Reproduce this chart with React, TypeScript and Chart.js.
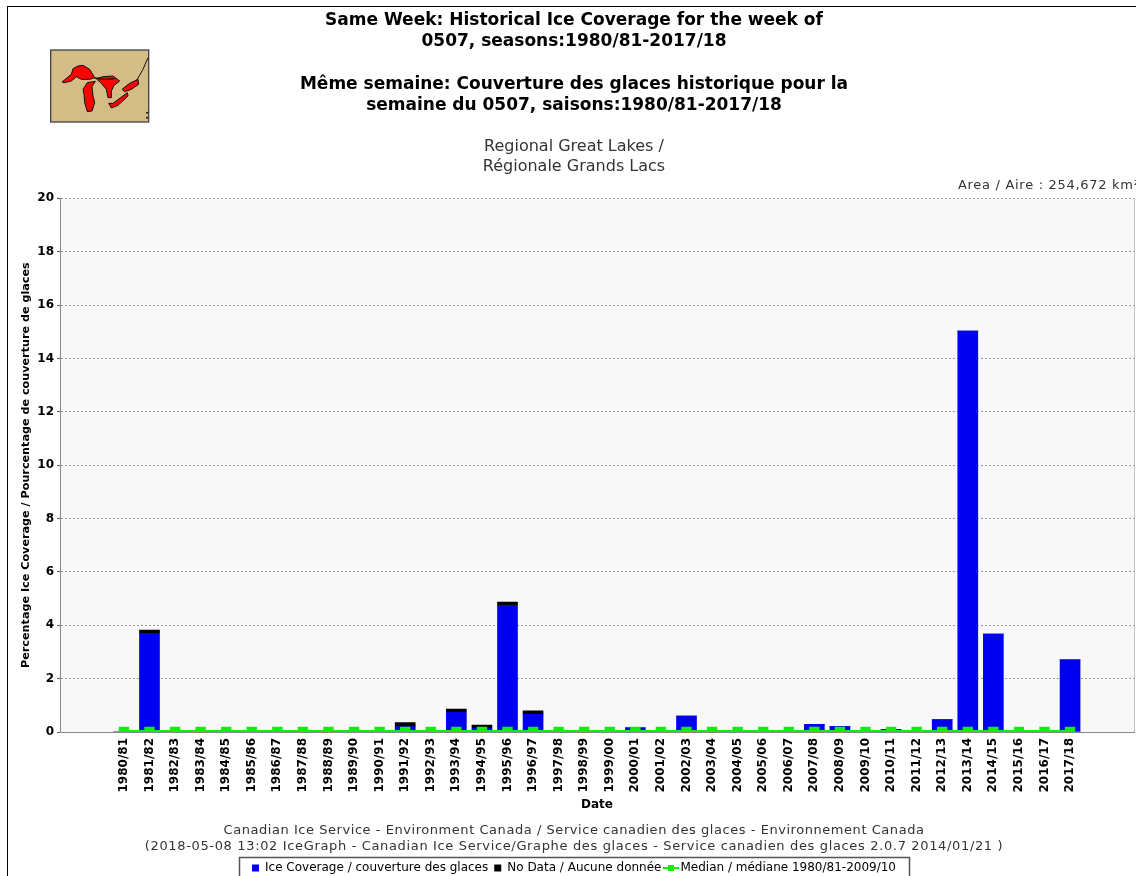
import React, { useEffect, useRef } from "react";
import { Chart, registerables } from "chart.js";

Chart.register(...registerables);

const seasons = [
  "1980/81","1981/82","1982/83","1983/84","1984/85","1985/86","1986/87","1987/88","1988/89","1989/90",
  "1990/91","1991/92","1992/93","1993/94","1994/95","1995/96","1996/97","1997/98","1998/99","1999/00",
  "2000/01","2001/02","2002/03","2003/04","2004/05","2005/06","2006/07","2007/08","2008/09","2009/10",
  "2010/11","2011/12","2012/13","2013/14","2014/15","2015/16","2016/17","2017/18",
];
const iceCoverage = [
  0,3.7,0,0,0,0,0,0,0,0,
  0,0.2,0,0.74,0.14,4.75,0.66,0,0,0,
  0.16,0,0.6,0,0,0,0,0.29,0.2,0,
  0.09,0,0.47,15.02,3.67,0,0,2.7,
];
const noData = [
  0,0.12,0,0,0,0,0,0,0,0,
  0,0.15,0,0.12,0.12,0.12,0.13,0,0,0,
  0,0,0,0,0,0,0,0,0,0,
  0,0,0,0,0,0,0,0,
];
const median = seasons.map(() => 0);

const titleLines = [
  "Same Week: Historical Ice Coverage for the week of",
  "0507, seasons:1980/81-2017/18",
  "",
  "Même semaine: Couverture des glaces historique pour la",
  "semaine du 0507, saisons:1980/81-2017/18",
];
const subtitleLines = ["Regional Great Lakes /", "Régionale Grands Lacs"];
const areaText = "Area / Aire : 254,672 km²";
const footerLines = [
  "Canadian Ice Service - Environment Canada / Service canadien des glaces - Environnement Canada",
  "(2018-05-08 13:02 IceGraph - Canadian Ice Service/Graphe des glaces - Service canadien des glaces 2.0.7 2014/01/21 )",
];
const legendLabels = [
  "Ice Coverage / couverture des glaces",
  "No Data / Aucune donnée",
  "Median / médiane 1980/81-2009/10",
];
const FONT = "'DejaVu Sans', sans-serif";
const GREEN = "#10ee10";
const pad = (a: (number | null)[]) => [null, null, ...a, null, null];

function lineMarker() {
  const c = document.createElement("canvas");
  c.width = 16;
  c.height = 8;
  const x = c.getContext("2d")!;
  x.fillStyle = GREEN;
  x.fillRect(0, 3, 16, 2);
  x.fillRect(5, 1, 6, 6);
  return c;
}

const decorations = {
  id: "decorations",
  beforeDatasetsDraw(chart: any) {
    const { ctx, chartArea: a } = chart;
    ctx.save();
    ctx.fillStyle = "#c4c4c4";
    ctx.fillRect(a.right, a.top, 1, a.bottom - a.top);
    ctx.restore();
  },
  afterDraw(chart: any) {
    const { ctx, legend } = chart;
    ctx.save();
    ctx.fillStyle = "#333";
    ctx.textBaseline = "middle";
    ctx.font = `13px ${FONT}`;
    (ctx as any).letterSpacing = "0.7px";
    ctx.textAlign = "left";
    ctx.fillText(areaText, 950, 179);
    ctx.textAlign = "center";
    (ctx as any).letterSpacing = "0.55px";
    ctx.fillText(footerLines[0], 566, 824);
    (ctx as any).letterSpacing = "0.65px";
    ctx.fillText(footerLines[1], 566, 840);
    (ctx as any).letterSpacing = "0px";
    ctx.strokeStyle = "#555";
    ctx.lineWidth = 1.5;
    const hits = legend.legendHitBoxes;
    const l = hits[0].left - 13;
    const last = hits[hits.length - 1];
    const r = last.left + last.width + 13;
    ctx.strokeRect(l + 0.5, 850.5, r - l, 40);
    ctx.restore();
  },
};

export default function App() {
  const ref = useRef<HTMLCanvasElement>(null);
  useEffect(() => {
    document.body.style.margin = "0";
    document.body.style.overflow = "hidden";
    const chart = new Chart(ref.current!, {
      type: "bar",
      data: {
        labels: ["", "", ...seasons, "", ""],
        datasets: [
          { type: "bar", label: legendLabels[0], data: pad(iceCoverage), backgroundColor: "#0000f0", barThickness: 20, order: 2 },
          { type: "bar", label: legendLabels[1], data: pad(noData), backgroundColor: "#000", barThickness: 20, order: 3 },
          { type: "line", label: legendLabels[2], data: pad(median), borderColor: GREEN, backgroundColor: GREEN, borderWidth: 4, pointStyle: "rect", pointRadius: 4.5, pointHoverRadius: 4.5, order: 1 },
        ],
      } as any,
      options: {
        animation: false,
        responsive: false,
        layout: { padding: { top: 0, right: 10, bottom: 0, left: 6 } },
        plugins: {
          title: { display: true, text: titleLines, color: "#000", font: { family: FONT, size: 17, weight: "bold", lineHeight: 1.25 }, padding: { top: 3, bottom: 21 } },
          subtitle: { display: true, text: subtitleLines, color: "#333", font: { family: FONT, size: 16, lineHeight: 1.25 }, padding: { top: 0, bottom: 21 } },
          legend: {
            position: "bottom",
            labels: {
              color: "#333",
              font: { family: FONT, size: 12 },
              usePointStyle: true,
              pointStyleWidth: 7,
              boxHeight: 7,
              padding: 6,
              generateLabels: () => [
                { text: legendLabels[0], fillStyle: "#0000f0", strokeStyle: "#0000f0", pointStyle: "rect", lineWidth: 0 },
                { text: legendLabels[1], fillStyle: "#000", strokeStyle: "#000", pointStyle: "rect", lineWidth: 0 },
                { text: legendLabels[2], pointStyle: lineMarker(), lineWidth: 0 },
              ],
            },
          },
          tooltip: { enabled: false },
        },
        scales: {
          x: {
            stacked: true,
            grid: { display: false, drawTicks: false },
            border: { color: "#888", width: 1 },
            ticks: { color: "#000", font: { family: FONT, size: 12, weight: "bold" }, minRotation: 90, maxRotation: 90, autoSkip: false, padding: 6 },
            title: { display: true, text: "Date", color: "#000", font: { family: FONT, size: 12, weight: "bold" }, padding: { top: 0, bottom: 44 } },
            afterFit(s: any) { s.height = 124; },
          },
          y: {
            stacked: true,
            min: 0,
            max: 20,
            grid: { color: "#999", tickColor: "#666", tickLength: 3, drawTicks: true },
            border: { color: "#888", dash: [2, 2], width: 1 },
            ticks: { stepSize: 2, color: "#000", font: { family: FONT, size: 12, weight: "bold" }, padding: 3 },
            title: { display: true, text: "Percentage Ice Coverage / Pourcentage de couverture de glaces", color: "#000", font: { family: FONT, size: 11.2, weight: "bold" }, padding: { top: 5, bottom: 0 } },
            afterFit(s: any) { s.width = 46; },
          },
        },
      } as any,
      plugins: [
        {
          id: "plotBg",
          beforeDraw(c: any) {
            const { ctx, chartArea: a } = c;
            ctx.save();
            ctx.fillStyle = "#f8f8f8";
            ctx.fillRect(a.left, a.top, a.right - a.left, a.bottom - a.top);
            ctx.restore();
          },
        },
        decorations,
      ],
    });
    return () => chart.destroy();
  }, []);
  return (
    <div style={{ position: "fixed", left: 0, top: 0, width: 1136, height: 876, overflow: "hidden", background: "#fff" }}>
      <div style={{ position: "absolute", left: 7, top: 6, width: 1129, height: 870, borderLeft: "1px solid #000", borderTop: "1px solid #000" }} />
      <canvas ref={ref} width={1136} height={877} style={{ position: "absolute", left: 8, top: 7, display: "block" }} />
      <svg style={{ position: "absolute", left: 48, top: 46 }} width={104} height={80} viewBox="0 0 312 240">
        <rect x={8} y={12} width={294} height={216} fill="#d4bc87" stroke="#444" strokeWidth={4} />
        <g fill="#f00" stroke="#111" strokeWidth={3} strokeLinejoin="round">
          <polygon points="42,108 70,85 75,68 90,60 105,58 125,70 140,95 125,100 100,100 85,92 70,105 50,110" />
          <polygon points="105,130 118,110 142,106 132,122 135,150 140,170 132,195 118,197 110,170 108,145" />
          <polygon points="145,98 165,92 195,90 215,105 198,118 190,135 190,155 180,155 175,130 160,112" />
          <polygon points="182,172 195,172 238,140 240,150 210,178 190,186" />
          <polygon points="222,130 245,112 270,100 272,115 250,130 230,137" />
        </g>
        <polyline points="140,96 170,100 200,98" fill="none" stroke="#111" strokeWidth={4} />
        <polyline points="265,105 285,70 300,35" fill="none" stroke="#111" strokeWidth={3} />
        <circle cx={297} cy={200} r={3} fill="#111" />
        <circle cx={297} cy={215} r={3} fill="#111" />
      </svg>
    </div>
  );
}
